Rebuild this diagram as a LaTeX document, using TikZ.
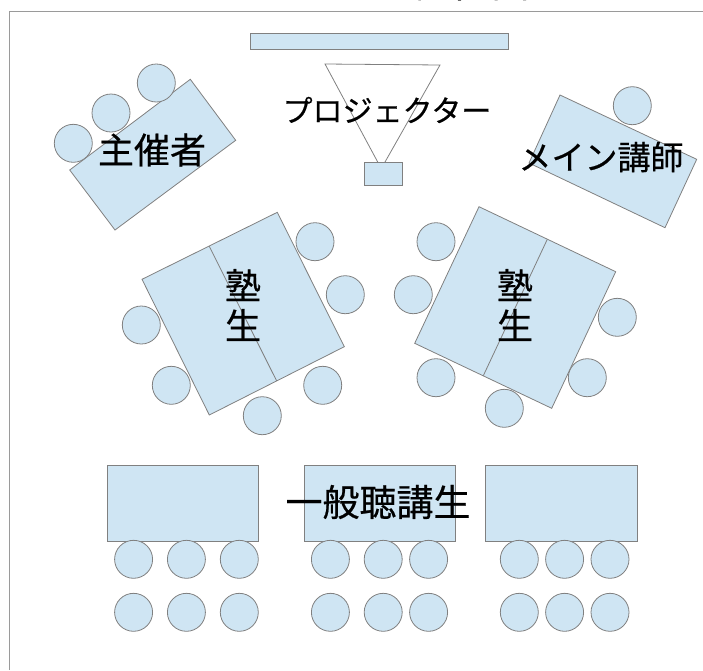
\documentclass[tikz,border=0pt]{standalone}
\usepackage{fontspec}
\newfontfamily\cjk[FakeBold=0.5]{Noto Sans CJK JP}
\definecolor{deskblue}{HTML}{CFE5F3}
\definecolor{edgegray}{HTML}{808080}
\tikzset{
  desk/.style={draw=edgegray, fill=deskblue, line width=0.8pt},
  seat/.style={draw=edgegray, fill=deskblue, line width=0.8pt},
  biglabel/.style={font=\cjk\fontsize{36}{40}\selectfont, inner sep=0pt, align=center},
}
\begin{document}
\begin{tikzpicture}[x=1pt, y=-1pt]
\useasboundingbox (0,0) rectangle (703,670);
\clip (0,0) rectangle (703,670);

% Title, cut off by the page edge
\node[biglabel, font=\cjk\fontsize{38}{40}\selectfont] (title) at (548,-16.5) {配置図イメージ};

% Boundary
\draw[edgegray!80, line width=1pt] (9,670) -- (9,11) -- (703,11);

% Screen and projector
\draw[desk] (250.5,33.5) rectangle (508,49);
\draw[edgegray, line width=0.8pt] (377.7,162) -- (325,64) -- (440,65) -- (385,162);
\draw[desk] (364.3,162.3) rectangle (402.3,185.3);

% Organizer
\draw[desk] (190.3,79.3) -- (235.7,140.3) -- (115,230) -- (69.7,170) -- cycle;
\draw[seat] (156.3,83) circle (19);
\draw[seat] (111,113) circle (19);
\draw[seat] (73.3,143.3) circle (19);

% Main lecturer
\draw[desk] (560,95) -- (696.7,159.3) -- (665,227.7) -- (529,163) -- cycle;
\draw[seat] (632.3,105.7) circle (19);

% Students, left
\draw[desk] (277.3,212.3) -- (344.3,346.7) -- (209.3,415) -- (142,279.3) -- cycle;
\draw[edgegray, line width=0.8pt] (209.3,246.3) -- (276.7,381);
\draw[seat] (315,241.7) circle (19);
\draw[seat] (345.3,294.7) circle (19);
\draw[seat] (141.3,325) circle (19);
\draw[seat] (171.3,385.3) circle (19);
\draw[seat] (322.7,385.3) circle (19);
\draw[seat] (262.3,415.7) circle (19);

% Students, right
\draw[desk] (479,206.7) -- (615.7,271.7) -- (551.7,408.3) -- (414.7,343.3) -- cycle;
\draw[edgegray, line width=0.8pt] (547.3,239.3) -- (483.3,375.7);
\draw[seat] (436,241.7) circle (19);
\draw[seat] (413.3,294.7) circle (19);
\draw[seat] (617.3,317.3) circle (19);
\draw[seat] (587.3,377.7) circle (19);
\draw[seat] (436,377.7) circle (19);
\draw[seat] (504.3,408.3) circle (19);

% Audience desks
\draw[desk] (107,465) rectangle (258,541);
\draw[desk] (304,465) rectangle (455,541);
\draw[desk] (485,465) rectangle (637,541);

% Audience seats, front row
\draw[seat] (133.6,559.3) circle (19);
\draw[seat] (186.4,559.3) circle (19);
\draw[seat] (239.3,559.3) circle (19);
\draw[seat] (330.4,559.3) circle (19);
\draw[seat] (383.2,559.3) circle (19);
\draw[seat] (428.6,559.3) circle (19);
\draw[seat] (519.3,559.3) circle (19);
\draw[seat] (564.6,559.3) circle (19);
\draw[seat] (610,559.3) circle (19);

% Audience seats, back row
\draw[seat] (133.6,612.3) circle (19);
\draw[seat] (186.4,612.3) circle (19);
\draw[seat] (239.3,612.3) circle (19);
\draw[seat] (330.4,612.3) circle (19);
\draw[seat] (383.2,612.3) circle (19);
\draw[seat] (428.6,612.3) circle (19);
\draw[seat] (519.3,612.3) circle (19);
\draw[seat] (564.6,612.3) circle (19);
\draw[seat] (610,612.3) circle (19);

% Labels
\node[biglabel, font=\cjk\fontsize{30}{34}\selectfont] (projector) at (387,110) {プロジェクター};
\node[biglabel] (organizer) at (152,150) {主催者};
\node[biglabel, font=\cjk\fontsize{33}{36}\selectfont] (lecturer) at (601,157) {メイン講師};
\node[biglabel] (studentsL) at (243,305) {塾\\生};
\node[biglabel] (studentsR) at (515,305) {塾\\生};
\node[biglabel, font=\cjk\fontsize{37}{40}\selectfont] (audience) at (378,502) {一般聴講生};
\end{tikzpicture}
\end{document}
